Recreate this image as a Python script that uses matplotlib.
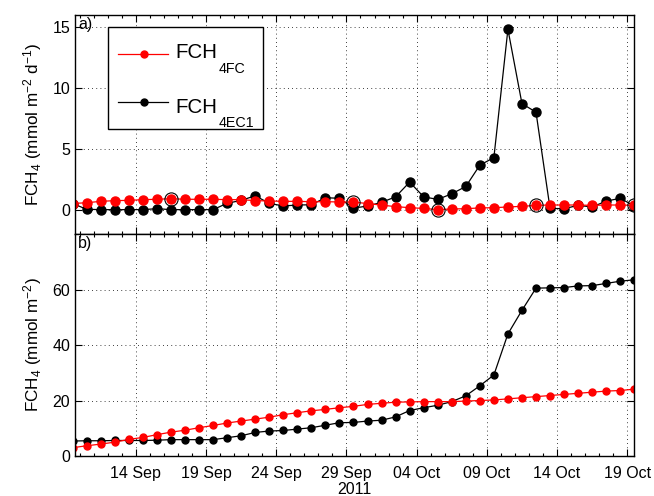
import matplotlib
matplotlib.use("Agg")
import matplotlib.pyplot as plt
import matplotlib.dates as mdates
from matplotlib.lines import Line2D
from matplotlib.patches import Rectangle
import numpy as np
import pandas as pd

plt.rcParams['font.family'] = ['Liberation Sans', 'DejaVu Sans']
plt.rcParams['mathtext.fontset'] = 'custom'
plt.rcParams['mathtext.rm'] = 'Liberation Sans'
plt.rcParams['mathtext.it'] = 'Liberation Sans:italic'
plt.rcParams['mathtext.bf'] = 'Liberation Sans:bold'

# daily values, centred at noon, 9 Sep - 19 Oct 2011
days = pd.date_range('2011-09-09 12:00', periods=41, freq='D')

# daily flux (mmol m-2 d-1)
flux_fc = [0.50, 0.57, 0.68, 0.74, 0.76, 0.82, 0.85, 0.90, 0.85, 0.85, 0.85,
           0.82, 0.82, 0.74, 0.71, 0.68, 0.68, 0.65, 0.65, 0.63, 0.62,
           0.50, 0.37, 0.25, 0.16, 0.10, 0.00, 0.05, 0.08, 0.14, 0.16,
           0.22, 0.27, 0.35, 0.38, 0.38, 0.38, 0.35, 0.38, 0.38, 0.35]
flux_ec1 = [0.50, 0.03, 0.00, 0.00, 0.00, 0.00, 0.08, 0.00, 0.00, 0.00, 0.00,
            0.52, 0.76, 1.14, 0.52, 0.30, 0.38, 0.40, 0.98, 0.93, 0.12,
            0.30, 0.60, 1.05, 2.26, 1.05, 0.84, 1.30, 1.90, 3.65, 4.27,
            14.80, 8.70, 8.00, 0.10, 0.08, 0.35, 0.22, 0.70, 0.93, 0.30]

# days flagged with a ring in the upper panel
ring_days = ['2011-09-16 12:00', '2011-09-29 12:00', '2011-10-05 12:00',
             '2011-10-12 12:00', '2011-10-19 12:00']

# cumulative flux (mmol m-2)
cum_fc = [3.0, 3.7, 4.3, 5.0, 6.0, 6.7, 7.7, 8.6, 9.3, 10.2, 11.0,
          11.9, 12.6, 13.3, 14.0, 14.9, 15.6, 16.3, 16.8, 17.4, 17.9,
          18.6, 19.0, 19.4, 19.5, 19.6, 19.6, 19.6, 19.8, 20.0, 20.2,
          20.6, 21.0, 21.4, 21.8, 22.2, 22.6, 23.0, 23.4, 23.6, 24.1]
cum_ec1 = [5.4, 5.5, 5.5, 5.6, 5.6, 5.6, 5.7, 5.9, 5.9, 5.9, 5.9,
           6.6, 7.3, 8.5, 9.0, 9.2, 9.7, 10.2, 11.1, 12.0, 12.1,
           12.6, 12.9, 14.1, 16.4, 17.4, 18.3, 19.6, 21.7, 25.3, 29.2,
           44.0, 52.5, 60.5, 60.6, 60.7, 61.3, 61.4, 62.2, 63.0, 63.5]

series_names = ['FCH', 'FCH']
series_subs = ['4FC', '4EC1']
series_colors = ['red', 'black']

flux_fc = np.array(flux_fc)
ring_idx = [list(days).index(pd.Timestamp(d)) for d in ring_days]

fs = 11.5

fig = plt.figure(figsize=(6.54, 4.96), dpi=100)
ax1 = fig.add_axes([0.1147, 0.5282, 0.8547, 0.4422])
ax2 = fig.add_axes([0.1147, 0.0806, 0.8547, 0.4476])

xmin = pd.Timestamp('2011-09-09 16:00')
xmax = pd.Timestamp('2011-10-19 11:30')

for ax in (ax1, ax2):
    ax.set_xlim(xmin, xmax)
    ax.xaxis.set_major_locator(mdates.DayLocator(bymonthday=[4, 9, 14, 19, 24, 29]))
    ax.xaxis.set_minor_locator(mdates.DayLocator())
    ax.xaxis.set_major_formatter(mdates.DateFormatter('%d %b'))
    ax.tick_params(which='both', direction='in', top=True, right=True,
                   labelsize=fs, width=0.8)
    ax.tick_params(which='major', length=5)
    ax.tick_params(which='minor', length=2.5)
    ax.tick_params(axis='x', pad=7)
    ax.grid(True, which='major', linestyle=(0, (1, 4)), color='black', linewidth=0.6)
    for s in ax.spines.values():
        s.set_linewidth(1.0)

# upper panel: daily flux
ax1.plot(days, flux_ec1, '-o', color='black', lw=0.9, ms=6.5)
ax1.plot(days, flux_fc, '-o', color='red', lw=0.9, ms=6.5)
ax1.plot(days[ring_idx], flux_fc[ring_idx], 'o', mfc='none', mec='black', ms=9.5, mew=0.8)
ax1.set_ylim(-2, 16)
ax1.set_yticks([0, 5, 10, 15])
ax1.tick_params(labelbottom=False)
ax1.set_ylabel(r'FCH$_4$ (mmol m$^{-2}$ d$^{-1}$)', fontsize=12.3, labelpad=6)
ax1.text(0.006, 0.99, 'a)', transform=ax1.transAxes, ha='left', va='top', fontsize=fs)

# legend box drawn by hand so the subscripts can sit low like the original
ax1.add_patch(Rectangle((0.0585, 0.4774), 0.2773, 0.4679, transform=ax1.transAxes,
                        facecolor='white', edgecolor='black', lw=1.0, zorder=5))
row_y = [0.820, 0.601]
base_y = [0.801, 0.553]
for name, sub, col, ly, by in zip(series_names, series_subs, series_colors, row_y, base_y):
    ax1.add_line(Line2D([0.0769, 0.1664], [ly, ly], color=col, lw=0.9,
                        transform=ax1.transAxes, zorder=6))
    ax1.add_line(Line2D([0.1235], [ly], marker='o', ms=5, color=col,
                        transform=ax1.transAxes, zorder=6))
    t = ax1.text(0.1789, by, name, transform=ax1.transAxes, fontsize=14.8,
                 ha='left', va='baseline', zorder=6)
    ax1.annotate(sub, xy=(1, 0), xycoords=t, xytext=(1.0, -7.6),
                 textcoords='offset points', fontsize=10.3,
                 ha='left', va='baseline', zorder=6)

# lower panel: cumulative flux
ax2.plot(days, cum_ec1, '-o', color='black', lw=0.9, ms=5)
ax2.plot(days, cum_fc, '-o', color='red', lw=0.9, ms=5)
ax2.set_ylim(0, 80)
ax2.set_yticks([0, 20, 40, 60])
ax2.set_ylabel(r'FCH$_4$ (mmol m$^{-2}$)', fontsize=12.3, labelpad=6)
ax2.set_xlabel('2011', fontsize=fs, labelpad=1)
ax2.text(0.006, 0.99, 'b)', transform=ax2.transAxes, ha='left', va='top', fontsize=fs)

fig.savefig('out.png', dpi=100)
